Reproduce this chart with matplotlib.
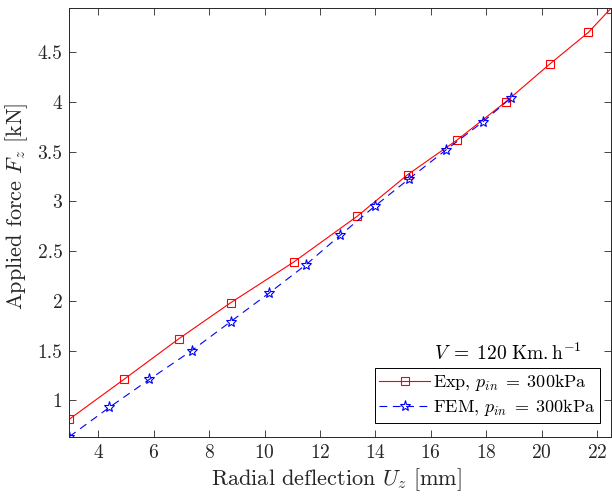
import numpy as np
import matplotlib
matplotlib.use("Agg")
import matplotlib.pyplot as plt

plt.rcParams["font.family"] = "serif"
plt.rcParams["font.serif"] = ["cmr10"]
plt.rcParams["mathtext.fontset"] = "cm"
plt.rcParams["axes.formatter.use_mathtext"] = True

# Exp, p_in = 300kPa
uz_exp = [2.95, 4.92, 6.91, 8.77, 11.05, 13.34, 15.17, 16.96, 18.70, 20.29, 21.69, 22.50]
fz_exp = [0.81, 1.21, 1.62, 1.98, 2.39, 2.85, 3.27, 3.62, 4.00, 4.38, 4.70, 4.94]

# FEM, p_in = 300kPa
uz_fem = [2.95, 4.40, 5.84, 7.37, 8.77, 10.17, 11.48, 12.73, 13.97, 15.23, 16.56, 17.88, 18.89]
fz_fem = [0.634, 0.93, 1.21, 1.50, 1.79, 2.08, 2.36, 2.66, 2.95, 3.23, 3.52, 3.80, 4.04]

fig = plt.figure(figsize=(6.12, 4.96), dpi=100)
ax = fig.add_axes([0.1133, 0.1196, 0.8847, 0.8644])

ax.plot(uz_exp, fz_exp, "-s", color="r", lw=0.8, ms=6, mfc="none", mew=0.8,
        label=r"Exp$,\,p_{in}\;=\;300$kPa")
ax.plot(uz_fem, fz_fem, "--*", color="b", lw=0.8, ms=8, mfc="none", mew=0.8,
        dashes=(7, 5), label=r"FEM$,\,p_{in}\;=\;300$kPa")

ax.set_xlim(2.95, 22.5)
ax.set_ylim(0.634, 4.946)
ax.set_xticks(np.arange(4, 23, 2))
ax.set_yticks([1, 1.5, 2, 2.5, 3, 3.5, 4, 4.5])
ax.set_yticklabels(["1", "1.5", "2", "2.5", "3", "3.5", "4", "4.5"])
ax.tick_params(direction="in", top=True, right=True, length=5, width=0.6,
               labelsize=14, colors="0.15", pad=5)
for s in ax.spines.values():
    s.set_linewidth(0.7)
    s.set_color("0.15")

ax.set_xlabel(r"Radial deflection $U_z$ [mm]", fontsize=16, color="0.15", va="top")
ax.set_ylabel(r"Applied force $F_z$ [kN]", fontsize=16, color="0.15", va="center")
ax.xaxis.set_label_coords(0.493, -0.068)
ax.yaxis.set_label_coords(-0.0965, 0.537)

ax.text(0.946, 0.18, r"$V\;=\;120\ \mathrm{Km.h}^{-1}$", transform=ax.transAxes,
        ha="right", va="baseline", fontsize=14)

leg = ax.legend(loc="lower right", bbox_to_anchor=(0.981, 0.033), borderaxespad=0,
                fontsize=13, fancybox=False, edgecolor="k", framealpha=1,
                handlelength=2.8, handletextpad=0.2, borderpad=0.25, labelspacing=0.2)
leg.get_frame().set_linewidth(0.7)

fig.savefig("out.png", dpi=100)
